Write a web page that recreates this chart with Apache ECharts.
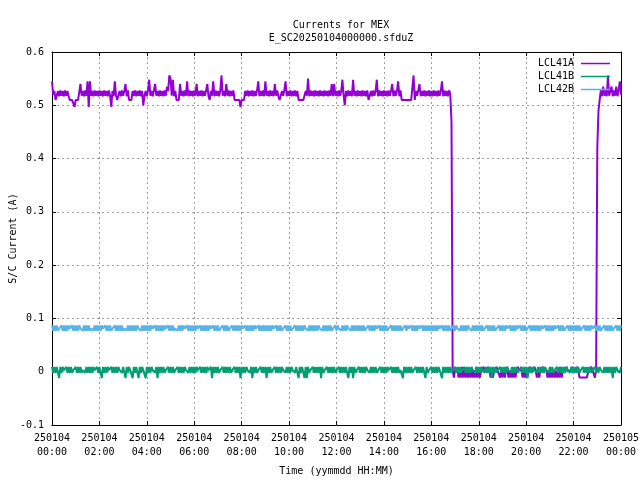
<!DOCTYPE html>
<html>
<head>
<meta charset="utf-8">
<script src="https://cdn.jsdelivr.net/npm/echarts@6/dist/echarts.min.js"></script>
<style>html,body{margin:0;padding:0;background:#fff}#c{width:640px;height:480px}</style>
</head>
<body>
<div id="c"></div>
<script>
// samples every 3 minutes from 250104 00:00 to 250105 00:00; currents in mA
const stepMinutes = 3;

const seriesNames = ['LCL41A', 'LCL41B', 'LCL42B'];

const xTickLabels = ['250104\n00:00','250104\n02:00','250104\n04:00','250104\n06:00','250104\n08:00','250104\n10:00','250104\n12:00','250104\n14:00','250104\n16:00','250104\n18:00','250104\n20:00','250104\n22:00','250105\n00:00'];
const yTickLabels = ['-0.1','0','0.1','0.2','0.3','0.4','0.5','0.6'];

const lcl41a_mA = [
545,520,527,510,511,527,517,528,518,527,517,528,518,527,517,510,511,510,512,497,
510,511,510,512,540,518,527,517,528,518,545,497,545,518,527,517,528,518,527,517,
528,518,527,517,528,518,527,517,528,518,497,527,517,545,518,510,511,527,517,528,
518,527,540,517,528,510,511,510,527,518,528,517,527,518,528,517,527,500,518,527,
517,528,548,518,527,517,528,540,518,527,517,528,518,527,517,528,518,535,527,556,
550,518,548,517,527,510,511,510,540,518,527,517,528,518,545,517,528,518,527,517,
528,518,540,517,527,518,528,517,527,518,528,540,517,510,527,518,545,517,528,518,
527,517,528,556,518,527,517,540,518,528,517,527,518,528,510,511,510,512,510,497,
510,511,510,527,518,528,517,527,518,528,517,527,518,528,545,517,527,518,528,517,
545,518,527,517,528,518,527,517,540,518,528,517,510,511,527,518,528,545,517,527,
518,528,517,527,518,528,517,527,510,511,510,512,510,511,527,518,550,517,528,518,
527,517,528,518,527,517,528,518,527,517,528,518,527,517,528,518,540,517,540,518,
527,517,528,518,527,548,518,500,527,517,528,518,527,517,548,518,527,517,528,518,
527,517,528,518,527,517,528,510,518,527,517,528,518,527,548,517,528,518,527,517,
528,518,527,517,528,518,527,540,517,528,518,527,545,517,528,510,511,510,512,510,
511,510,512,510,511,556,510,527,518,528,540,517,527,518,528,517,527,518,528,517,
527,517,528,518,527,517,528,518,527,545,517,528,518,527,517,528,520,470,3,-11,
3,2,3,-11,3,-11,9,-11,3,-11,2,-11,3,-11,2,-11,3,-11,9,-11,
3,-11,2,3,9,2,3,2,9,3,-11,3,-11,2,3,9,2,3,-11,2,
-11,3,-11,2,9,-11,3,-11,2,-11,3,-11,2,9,3,2,3,-11,3,-11,
2,-11,3,9,2,3,2,9,3,-11,2,-11,3,2,9,3,2,3,-11,3,
-11,2,-11,3,-11,2,-11,3,-11,9,-11,3,2,3,9,2,3,2,3,9,
2,3,2,9,3,-11,-12,-11,-12,-11,-12,-11,-11,3,2,9,3,2,-11,3,
420,490,510,528,517,535,518,528,517,556,518,527,535,517,528,518,535,517,528,545,
520];

const lcl41b_mA = [
9,-2,9,-2,9,-2,-12,9,-2,9,3,3,9,-2,9,-2,9,-2,3,3,
9,-2,9,-2,9,-2,3,3,-2,9,-2,9,-2,9,-2,9,3,3,9,-2,
9,-2,-12,9,-2,9,-2,9,3,3,9,-2,9,-2,9,-2,9,3,3,-2,
9,-2,-12,9,-2,9,3,3,-12,9,-2,9,-2,-12,9,-2,9,3,3,-12,
9,-2,9,-2,9,3,3,-2,9,-12,9,-2,9,-2,9,-2,3,3,9,-2,
9,-2,9,-2,3,3,9,-2,9,-2,9,-2,9,3,3,-2,9,-2,9,-2,
9,-2,9,3,3,9,-2,9,-2,9,-2,9,3,3,9,-12,9,-2,9,-2,
9,-2,3,3,9,-2,9,-2,9,-2,9,-2,3,3,9,-2,9,-2,9,-12,
9,-2,9,-2,9,3,3,-2,9,-12,9,-2,9,-2,3,3,9,-2,9,-2,
9,-12,9,-2,9,-2,3,3,9,-2,9,-2,9,-2,9,3,3,-2,9,-2,
9,-2,9,3,3,-2,9,-2,-12,9,-2,9,-2,-12,9,-12,9,-2,3,3,
9,-2,9,-2,9,-2,9,-12,9,-2,3,3,9,-2,9,-2,9,-2,9,-2,
3,3,9,-2,9,-2,9,-2,9,-2,-12,9,-2,9,-12,9,-2,3,3,9,
-2,9,-2,9,-2,9,3,3,-2,9,-2,9,-2,9,-2,3,3,9,-2,9,
-2,9,-2,9,3,3,9,-2,9,-2,9,-2,9,-2,3,3,-12,9,-2,9,
-2,9,-2,9,-2,3,3,9,-2,9,-2,9,-2,9,-2,-12,9,-2,3,3,
9,-2,9,-2,9,-2,9,3,3,-12,9,-2,9,-2,9,-2,9,-2,3,3,
9,-2,9,-2,9,-2,3,3,9,-2,9,-2,9,-2,9,3,3,-2,9,-2,
9,-2,9,3,3,-2,9,-2,9,-2,9,-12,9,-2,9,-2,3,3,9,-2,
9,-2,9,-2,9,3,3,-2,9,-2,9,-2,9,-2,3,3,9,-2,9,-2,
9,-12,9,-2,9,-2,9,3,3,-2,9,-2,9,-2,9,-2,9,3,3,-2,
9,-2,9,-2,3,3,9,-2,9,-2,9,-2,9,-2,9,3,3,-2,9,-2,
9,-2,9,-2,9,-2,3,3,9,-2,9,-2,9,-2,9,-2,3,3,9,-2,
9,-2,9,3,3,-2,9,-2,9,-2,9,-2,9,-12,9,-2,9,3,3,-2,
9];

const lcl42b_mA = [
87,77,87,77,87,77,81,81,87,77,87,77,87,77,87,81,81,87,77,87,
77,87,77,87,81,81,77,87,77,87,77,87,77,81,81,77,87,77,87,77,
87,77,87,81,81,87,77,87,77,87,77,81,81,87,77,87,77,87,77,87,
77,81,81,77,87,77,87,77,87,77,87,77,87,81,81,77,87,77,87,77,
87,77,87,77,87,81,81,87,77,87,77,87,77,87,77,87,81,81,87,77,
87,77,87,77,81,81,77,87,77,87,77,87,81,81,87,77,87,77,87,77,
87,77,87,81,81,87,77,87,77,87,77,87,77,87,81,81,87,77,87,77,
87,77,81,81,87,77,87,77,87,77,81,81,87,77,87,77,87,77,87,77,
87,81,81,87,77,87,77,87,77,87,77,87,81,81,87,77,87,77,87,77,
87,77,87,77,87,77,87,81,81,87,77,87,77,87,77,81,81,87,77,87,
77,87,77,81,81,87,77,87,77,87,77,87,77,87,81,81,77,87,77,87,
77,87,77,87,77,87,81,81,77,87,77,87,77,87,77,87,77,81,81,87,
77,87,81,81,77,87,77,87,77,87,81,81,77,87,77,87,77,87,77,87,
77,87,77,87,77,81,81,87,77,87,77,87,77,87,81,81,87,77,87,77,
87,77,87,77,81,81,87,77,87,77,87,77,87,77,87,77,81,81,87,77,
87,81,81,87,77,87,77,87,77,87,81,81,87,77,87,77,87,77,87,77,
87,77,87,77,87,77,87,81,81,87,77,87,77,87,77,87,77,81,81,87,
77,87,81,81,77,87,77,87,77,87,77,87,81,81,77,87,77,87,77,87,
77,87,77,87,77,81,81,87,77,87,77,87,77,87,77,81,81,87,77,87,
77,87,77,87,81,81,87,77,87,77,87,77,87,81,81,87,77,87,77,87,
77,81,81,87,77,87,77,87,77,87,77,87,77,87,81,81,87,77,87,77,
87,77,87,77,87,81,81,87,77,87,77,87,77,81,81,87,77,87,77,87,
77,87,77,87,77,87,77,81,81,87,77,87,77,87,77,87,81,81,87,77,
87,77,87,77,81,81,87,77,87,77,87,77,87,77,81,81,87,77,87,77,
87];

const seriesColors = ['#9400d3', '#009e73', '#56b4e9'];

function toPairs(valuesMilliamp) {
  return valuesMilliamp.map((v, i) => [i * stepMinutes, v / 1000]);
}

const FONT = 'DejaVu Sans Mono';
const gridLine = { show: true, lineStyle: { color: '#a0a0a0', type: [2, 3], width: 1 } };
const blackLine = { show: true, onZero: false, lineStyle: { color: '#000', width: 1 } };
const inTick = { show: true, inside: true, length: 4, lineStyle: { color: '#000' } };

const chart = echarts.init(document.getElementById('c'), null, { renderer: 'canvas' });
chart.setOption({
  animation: false,
  backgroundColor: '#fff',
  title: {
    text: 'Currents for MEX\nE_SC20250104000000.sfduZ',
    left: 336, top: 14, textAlign: 'center',
    textStyle: { fontFamily: FONT, fontSize: 10, fontWeight: 'normal', color: '#000', lineHeight: 13 }
  },
  legend: {
    data: seriesNames,
    orient: 'vertical', right: 30, top: 57, padding: 0, itemGap: 0,
    align: 'right', icon: 'rect', itemWidth: 29, itemHeight: 1.5,
    textStyle: { fontFamily: FONT, fontSize: 10, color: '#000', lineHeight: 13, padding: [0, 2, 0, 0] }
  },
  grid: { left: 52, right: 19, top: 52, bottom: 55, containLabel: false, outerBoundsMode: 'none' },
  xAxis: [{
    type: 'value', min: 0, max: 1440, interval: 120, position: 'bottom',
    name: 'Time (yymmdd HH:MM)', nameLocation: 'middle', nameGap: 39, nameMoveOverlap: false,
    nameTextStyle: { fontFamily: FONT, fontSize: 10, color: '#000', lineHeight: 14 },
    axisLine: blackLine, axisTick: inTick, splitLine: gridLine,
    axisLabel: { fontFamily: FONT, fontSize: 10, color: '#000', lineHeight: 14, margin: 6,
      formatter: v => xTickLabels[Math.round(v / 120)] }
  }, {
    type: 'value', min: 0, max: 1440, interval: 120, position: 'top',
    axisLine: blackLine, axisTick: inTick, splitLine: { show: false }, axisLabel: { show: false }
  }],
  yAxis: [{
    type: 'value', min: -0.1, max: 0.6, interval: 0.1, position: 'left',
    name: 'S/C Current (A)', nameLocation: 'middle', nameGap: 34, nameRotate: 90, nameMoveOverlap: false,
    nameTextStyle: { fontFamily: FONT, fontSize: 10, color: '#000' },
    axisLine: blackLine, axisTick: inTick, splitLine: gridLine,
    axisLabel: { fontFamily: FONT, fontSize: 10, color: '#000', margin: 8,
      formatter: v => yTickLabels[Math.round((v + 0.1) / 0.1)] }
  }, {
    type: 'value', min: -0.1, max: 0.6, interval: 0.1, position: 'right',
    axisLine: blackLine, axisTick: inTick, splitLine: { show: false }, axisLabel: { show: false }
  }],
  series: [lcl41a_mA, lcl41b_mA, lcl42b_mA].map((vals, k) => ({
    name: seriesNames[k], type: 'line', xAxisIndex: 0, yAxisIndex: 0,
    data: toPairs(vals), showSymbol: false, symbol: 'none', sampling: null,
    color: seriesColors[k], lineStyle: { color: seriesColors[k], width: 2, join: 'bevel', cap: 'butt' },
    z: 2 + k
  }))
});
</script>
</body>
</html>
